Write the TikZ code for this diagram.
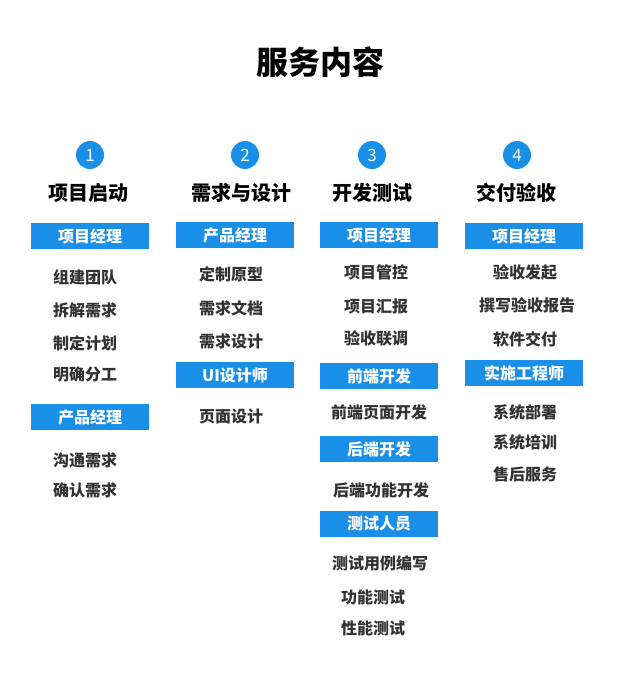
\documentclass[tikz,border=0pt]{standalone}
\usepackage{fontspec}
\setmainfont{Noto Sans CJK SC}
\newfontfamily\cjkb{Noto Sans CJK SC}[BoldFont=* Bold]
\definecolor{barblue}{HTML}{1A8FE8}
\definecolor{txt}{HTML}{333333}
\begin{document}
\begin{tikzpicture}[x=1pt,y=-1pt,
 bar/.style={fill=barblue,minimum width=118pt,minimum height=26pt,inner sep=0pt,text=white,font=\fontsize{16}{18}\selectfont\bfseries},
 item/.style={text=txt,font=\fontsize{16}{18}\selectfont\bfseries},
 head/.style={text=black,font=\fontsize{20}{22}\selectfont\bfseries},
 num/.style={circle,fill=barblue,minimum size=28pt,inner sep=0pt,text=white,font=\fontsize{17}{18}\selectfont}]
\useasboundingbox[fill=white] (0,0) rectangle (640,674);
\node[font=\fontsize{32}{34}\selectfont\bfseries] (title) at (320,62) {服务内容};
% column 1
\node[num] (n1) at (90,155) {1};
\node[head] (h1) at (88,193) {项目启动};
\node[bar] (b11) at (90,236) {项目经理};
\node[item] (c11) at (85,277) {组建团队};
\node[item] (c12) at (85,310) {拆解需求};
\node[item] (c13) at (85,343) {制定计划};
\node[item] (c14) at (85,374) {明确分工};
\node[bar] (b12) at (90,417) {产品经理};
\node[item] (c15) at (85,460) {沟通需求};
\node[item] (c16) at (85,490) {确认需求};
% column 2
\node[num] (n2) at (245,155) {2};
\node[head] (h2) at (241,193) {需求与设计};
\node[bar] (b21) at (235,235) {产品经理};
\node[item] (c21) at (231,274) {定制原型};
\node[item] (c22) at (231,308) {需求文档};
\node[item] (c23) at (231,341) {需求设计};
\node[bar] (b22) at (235,375) {UI设计师};
\node[item] (c24) at (231,416) {页面设计};
% column 3
\node[num] (n3) at (372,155) {3};
\node[head] (h3) at (372,193) {开发测试};
\node[bar] (b31) at (379,235) {项目经理};
\node[item] (c31) at (376,272) {项目管控};
\node[item] (c32) at (376,306) {项目汇报};
\node[item] (c33) at (376,338) {验收联调};
\node[bar] (b32) at (379,376) {前端开发};
\node[item] (c34) at (379,412) {前端页面开发};
\node[bar] (b33) at (379,449) {后端开发};
\node[item] (c35) at (381,490) {后端功能开发};
\node[bar] (b34) at (379,524) {测试人员};
\node[item] (c36) at (380,563) {测试用例编写};
\node[item] (c37) at (373,597) {功能测试};
\node[item] (c38) at (373,628) {性能测试};
% column 4
\node[num] (n4) at (517,155) {4};
\node[head] (h4) at (516,193) {交付验收};
\node[bar] (b41) at (524,236) {项目经理};
\node[item] (c41) at (525,272) {验收发起};
\node[item] (c42) at (527,305) {撰写验收报告};
\node[item] (c43) at (525,339) {软件交付};
\node[bar] (b42) at (524,373) {实施工程师};
\node[item] (c44) at (525,412) {系统部署};
\node[item] (c45) at (525,442) {系统培训};
\node[item] (c46) at (525,474) {售后服务};
\end{tikzpicture}
\end{document}
